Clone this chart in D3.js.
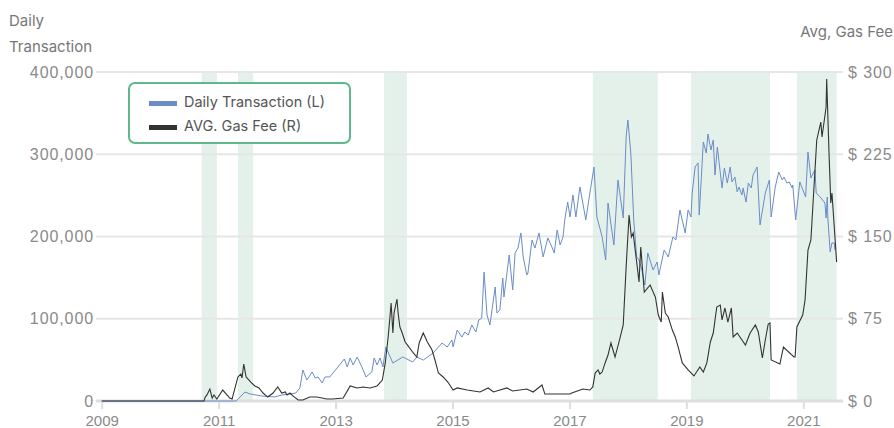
<!DOCTYPE html>
<html>
<head>
<meta charset="utf-8">
<script src="https://cdn.jsdelivr.net/npm/d3@7"></script>
<style>
  body { margin: 0; background: #fff; }
  svg { display: block; font-family: Inter, "Open Sans", sans-serif; }
</style>
</head>
<body>
<svg id="chart" width="894" height="428"></svg>
<script>
// daily transactions (left axis), decimal years
var txDates = [2009.00, 2011.30, 2011.45, 2011.54, 2011.74, 2011.96, 2012.08, 2012.22, 2012.32, 2012.39,
  2012.44, 2012.51, 2012.60, 2012.65, 2012.70, 2012.77, 2012.82, 2012.90, 2013.04, 2013.15,
  2013.20, 2013.25, 2013.30, 2013.37, 2013.45, 2013.52, 2013.62, 2013.66, 2013.71, 2013.76,
  2013.81, 2013.86, 2013.98, 2014.15, 2014.32, 2014.39, 2014.50, 2014.67, 2014.82, 2014.91,
  2014.99, 2015.01, 2015.08, 2015.16, 2015.21, 2015.27, 2015.33, 2015.40, 2015.45, 2015.50,
  2015.54, 2015.59, 2015.64, 2015.73, 2015.76, 2015.81, 2015.86, 2015.88, 2015.97, 2016.03,
  2016.07, 2016.12, 2016.17, 2016.21, 2016.27, 2016.29, 2016.36, 2016.41, 2016.48, 2016.55,
  2016.63, 2016.70, 2016.74, 2016.79, 2016.84, 2016.89, 2016.92, 2016.97, 2017.01, 2017.06,
  2017.11, 2017.18, 2017.28, 2017.35, 2017.42, 2017.47, 2017.56, 2017.62, 2017.66, 2017.76,
  2017.83, 2017.92, 2017.97, 2018.00, 2018.05, 2018.10, 2018.15, 2018.19, 2018.24, 2018.29,
  2018.34, 2018.43, 2018.50, 2018.53, 2018.62, 2018.69, 2018.77, 2018.82, 2018.89, 2018.98,
  2019.03, 2019.08, 2019.10, 2019.15, 2019.20, 2019.22, 2019.29, 2019.34, 2019.37, 2019.42,
  2019.46, 2019.49, 2019.53, 2019.61, 2019.65, 2019.70, 2019.75, 2019.78, 2019.83, 2019.87,
  2019.90, 2019.95, 2019.97, 2020.02, 2020.06, 2020.11, 2020.14, 2020.21, 2020.26, 2020.35,
  2020.42, 2020.45, 2020.52, 2020.58, 2020.64, 2020.67, 2020.72, 2020.76, 2020.81, 2020.82,
  2020.87, 2020.94, 2020.98, 2021.04, 2021.08, 2021.13, 2021.17, 2021.20, 2021.22, 2021.29,
  2021.37, 2021.39, 2021.41, 2021.42, 2021.46, 2021.49, 2021.53, 2021.54];
var txCount = [0, 0, 10900, 8500, 6100, 4900, 7300, 8500, 9700, 15800,
  37700, 25500, 35300, 28000, 29200, 21900, 29200, 29200, 41300, 51100,
  41300, 52300, 43800, 53500, 41300, 29200, 35300, 52300, 43800, 52300,
  41300, 65700, 46200, 53500, 47400, 53500, 49800, 58400, 70500, 65700,
  74200, 65700, 86300, 77800, 83900, 80200, 92400, 83900, 98500, 100900,
  156800, 104600, 92400, 138600, 107000, 110600, 149500, 126400, 177500, 135000,
  179900, 186000, 204300, 175100, 153200, 155600, 195700, 186000, 204300, 175100,
  198200, 187200, 179900, 207900, 189700, 199400, 220100, 241900, 223700, 250500,
  223700, 260200, 220100, 252900, 284500, 223700, 199400, 171400, 240700, 189700,
  268700, 222500, 321000, 341600, 301500, 220100, 175100, 171400, 159300, 141000,
  179900, 159300, 169000, 153200, 183600, 175100, 199400, 195700, 232200, 204300,
  232200, 223700, 252900, 284500, 289400, 226100, 314900, 301500, 324600, 305200,
  317300, 274800, 308800, 259000, 283300, 265000, 284500, 266300, 272300, 254100,
  260200, 250500, 259000, 241900, 265000, 259000, 274800, 284500, 214000, 252900,
  268700, 223700, 260200, 278400, 268700, 272300, 265000, 266300, 259000, 262600,
  220100, 266300, 259000, 248000, 302700, 271100, 277200, 280900, 252900, 248000,
  240700, 222500, 248000, 222500, 181200, 192100, 192100, 183600];

// average gas fee in $ (right axis)
var feeDates = [2009.00, 2010.75, 2010.77, 2010.80, 2010.85, 2010.89, 2010.92, 2010.97, 2011.07, 2011.19,
  2011.23, 2011.28, 2011.33, 2011.38, 2011.40, 2011.43, 2011.47, 2011.50, 2011.55, 2011.62,
  2011.69, 2011.76, 2011.84, 2011.93, 2012.01, 2012.08, 2012.14, 2012.17, 2012.22, 2012.27,
  2012.36, 2012.44, 2012.56, 2012.68, 2012.77, 2012.85, 2012.95, 2013.13, 2013.25, 2013.37,
  2013.47, 2013.59, 2013.71, 2013.80, 2013.85, 2013.90, 2013.93, 2013.95, 2013.98, 2014.00,
  2014.05, 2014.07, 2014.10, 2014.14, 2014.19, 2014.24, 2014.33, 2014.39, 2014.43, 2014.50,
  2014.57, 2014.65, 2014.70, 2014.76, 2014.84, 2014.92, 2015.01, 2015.08, 2015.25, 2015.47,
  2015.61, 2015.70, 2015.93, 2016.03, 2016.27, 2016.38, 2016.53, 2016.58, 2017.01, 2017.04,
  2017.23, 2017.35, 2017.40, 2017.44, 2017.49, 2017.52, 2017.56, 2017.61, 2017.66, 2017.71,
  2017.78, 2017.87, 2017.92, 2017.97, 2018.02, 2018.06, 2018.09, 2018.16, 2018.19, 2018.22,
  2018.28, 2018.38, 2018.47, 2018.52, 2018.57, 2018.59, 2018.64, 2018.69, 2018.76, 2018.81,
  2018.86, 2018.93, 2019.03, 2019.13, 2019.23, 2019.29, 2019.35, 2019.41, 2019.46, 2019.52,
  2019.58, 2019.61, 2019.66, 2019.71, 2019.77, 2019.80, 2019.87, 2020.01, 2020.09, 2020.18,
  2020.23, 2020.30, 2020.35, 2020.40, 2020.43, 2020.45, 2020.60, 2020.66, 2020.84, 2020.86,
  2020.89, 2020.99, 2021.03, 2021.08, 2021.13, 2021.23, 2021.30, 2021.32, 2021.39, 2021.40,
  2021.44, 2021.47, 2021.49, 2021.51, 2021.57];
var feeUsd = [0, 0, 3.6, 5.5, 10.9, 2.7, 5.5, 1.8, 10.0, 2.7,
  1.8, 11.9, 21.9, 24.6, 21.0, 33.7, 21.9, 20.1, 17.3, 13.7,
  11.9, 7.3, 3.6, 7.3, 12.8, 7.3, 8.2, 5.5, 7.3, 4.6,
  0.9, 0.9, 3.6, 3.6, 2.7, 1.8, 1.8, 2.7, 13.7, 11.9,
  12.8, 11.9, 13.7, 19.1, 34.7, 58.4, 76.6, 89.4, 62.0, 80.2,
  93.0, 80.2, 67.5, 62.0, 53.8, 50.2, 43.8, 40.1, 52.9, 62.0,
  53.8, 46.5, 37.4, 25.5, 21.9, 17.3, 10.0, 11.9, 10.0, 8.2,
  11.9, 8.2, 11.9, 9.1, 10.9, 8.2, 14.6, 6.4, 6.4, 7.3,
  10.9, 10.0, 12.8, 25.5, 28.3, 24.6, 26.4, 34.7, 41.9, 52.9,
  40.1, 58.4, 69.3, 122.2, 169.6, 149.6, 153.2, 122.2, 108.5, 140.4,
  99.4, 105.8, 94.8, 78.4, 72.0, 99.4, 80.2, 76.6, 64.7, 58.4,
  49.2, 34.7, 28.3, 22.8, 31.0, 26.4, 34.7, 53.8, 62.0, 85.7,
  87.5, 73.9, 84.8, 72.0, 84.8, 58.4, 62.0, 51.1, 62.0, 69.3,
  62.9, 39.2, 55.6, 70.2, 71.1, 37.4, 33.7, 49.2, 40.1, 40.1,
  67.5, 78.4, 92.1, 137.7, 146.8, 238.0, 254.4, 240.7, 268.1, 293.6,
  226.2, 180.6, 189.7, 174.2, 126.8];

// shaded periods
var bandStart = [2010.71, 2011.33, 2013.83, 2017.40, 2019.08, 2020.89];
var bandEnd = [2010.97, 2011.59, 2014.22, 2018.51, 2020.43, 2021.57];

var yearTicks = [2009, 2011, 2013, 2015, 2017, 2019, 2021];
var leftTicks = [0, 100000, 200000, 300000, 400000];
var rightTicks = [0, 75, 150, 225, 300];
var legendNames = ["Daily Transaction (L)", "AVG. Gas Fee (R)"];
var legendColors = ["#6b8cc6", "#333333"];

var svg = d3.select("#chart");
var gridX0 = 96, gridX1 = 843;

var x = d3.scaleLinear().domain([2009, 2021]).range([101.7, 803.3]);
var yL = d3.scaleLinear().domain([0, 400000]).range([401, 72]);
var yR = d3.scaleLinear().domain([0, 300]).range([401, 72]);

// bands
svg.append("g").selectAll("rect")
  .data(bandStart)
  .enter().append("rect")
  .attr("x", function(d) { return x(d); })
  .attr("width", function(d, i) { return x(bandEnd[i]) - x(d); })
  .attr("y", yL(400000))
  .attr("height", yL(0) - yL(400000))
  .attr("fill", "#e3f1ea");

// grid
svg.append("g").selectAll("line")
  .data(leftTicks.filter(function(d) { return d > 0; }))
  .enter().append("line")
  .attr("x1", gridX0).attr("x2", gridX1)
  .attr("y1", function(d) { return yL(d); })
  .attr("y2", function(d) { return yL(d); })
  .attr("stroke", "#e6e6e6")
  .attr("stroke-width", 2);

// left axis
var gl = svg.append("g")
  .attr("transform", "translate(" + gridX0 + ",0)")
  .call(d3.axisLeft(yL).tickValues(leftTicks).tickFormat(d3.format(",")).tickSize(0).tickPadding(2));
gl.select(".domain").remove();
gl.selectAll("text").attr("fill", "#8a8a8a").style("font-size", "16px").style("letter-spacing", "0.9px");

// right axis
var gr = svg.append("g")
  .attr("transform", "translate(" + gridX1 + ",0)")
  .call(d3.axisRight(yR).tickValues(rightTicks).tickFormat(function(d) { return "$ " + d; }).tickSize(0).tickPadding(5));
gr.select(".domain").remove();
gr.selectAll("text").attr("fill", "#8a8a8a").style("font-size", "16px").style("letter-spacing", "0.9px");

// bottom axis
var gb = svg.append("g")
  .attr("transform", "translate(0," + yL(0) + ")")
  .call(d3.axisBottom(x).tickValues(yearTicks).tickFormat(d3.format("d")).tickSize(8).tickPadding(6));
gb.select(".domain").remove();
gb.selectAll("line").attr("stroke", "#dedede").attr("stroke-width", 2);
gb.selectAll("text").attr("fill", "#8a8a8a").style("font-size", "15px");
svg.append("line")
  .attr("x1", gridX0).attr("x2", gridX1)
  .attr("y1", yL(0)).attr("y2", yL(0))
  .attr("stroke", "#dedede").attr("stroke-width", 3);

// lines
var txLine = d3.line()
  .x(function(d, i) { return x(txDates[i]); })
  .y(function(d) { return yL(d); });
var feeLine = d3.line()
  .x(function(d, i) { return x(feeDates[i]); })
  .y(function(d) { return yR(d); });

svg.append("path")
  .datum(txCount)
  .attr("d", txLine)
  .attr("fill", "none")
  .attr("stroke", legendColors[0])
  .attr("stroke-width", 1);

svg.append("path")
  .datum(feeUsd)
  .attr("d", feeLine)
  .attr("fill", "none")
  .attr("stroke", legendColors[1])
  .attr("stroke-width", 1.1);

// axis titles
svg.append("text").attr("x", 9).attr("y", 26).text("Daily")
  .attr("fill", "#777").style("font-size", "15px");
svg.append("text").attr("x", 9).attr("y", 52).text("Transaction")
  .attr("fill", "#777").style("font-size", "15px");
svg.append("text").attr("x", 893).attr("y", 37).attr("text-anchor", "end").text("Avg, Gas Fee")
  .attr("fill", "#777").style("font-size", "15px");

// legend
var lg = svg.append("g").attr("transform", "translate(129,83)");
lg.append("rect")
  .attr("width", 221).attr("height", 60).attr("rx", 6)
  .attr("fill", "#fff").attr("stroke", "#5db98b").attr("stroke-width", 2);
var items = lg.selectAll("g.item")
  .data(legendNames)
  .enter().append("g")
  .attr("class", "item")
  .attr("transform", function(d, i) { return "translate(20," + (18 + i * 24) + ")"; });
items.append("rect")
  .attr("width", 28).attr("height", 5)
  .attr("fill", function(d, i) { return legendColors[i]; });
items.append("text")
  .attr("x", 35).attr("y", 5.5).text(function(d) { return d; })
  .attr("fill", "#555").style("font-size", "14.5px");
</script>
</body>
</html>
